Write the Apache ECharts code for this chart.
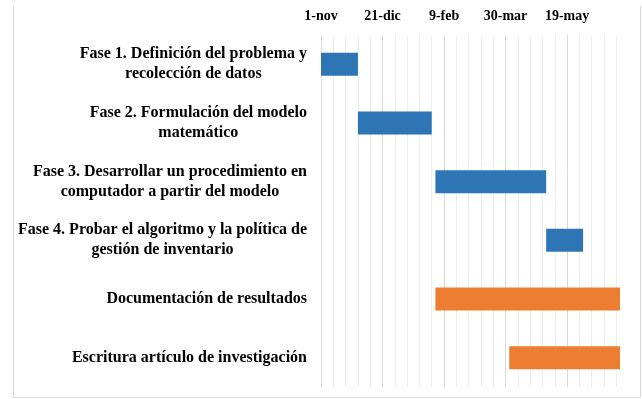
<!DOCTYPE html>
<html>
<head>
<meta charset="utf-8">
<script src="https://cdn.jsdelivr.net/npm/echarts@6/dist/echarts.min.js"></script>
<style>
  html, body { margin: 0; padding: 0; background: #fff; }
  #chart { width: 642px; height: 399px; }
</style>
</head>
<body>
<div id="chart"></div>
<script>
// Tareas del cronograma (una fila por tarea, de arriba a abajo)
const tareas = [
  'Fase 1. Definición del problema y\nrecolección de datos',
  'Fase 2. Formulación del modelo\nmatemático',
  'Fase 3. Desarrollar un procedimiento en\ncomputador a partir del modelo',
  'Fase 4. Probar el algoritmo y la política de\ngestión de inventario',
  'Documentación de resultados',
  'Escritura artículo de investigación'
];
// Fechas de inicio y fin de cada tarea
const fechaInicio = ['2019-11-01', '2019-12-01', '2020-02-02', '2020-05-02', '2020-02-02', '2020-04-02'];
const fechaFin    = ['2019-12-01', '2020-01-30', '2020-05-02', '2020-06-01', '2020-07-01', '2020-07-01'];
// Tipo de tarea: fases del proyecto o entregables
const esFase = [true, true, true, true, false, false];
// Etiquetas del eje temporal (cada 50 días desde el origen)
const etiquetasEje = ['1-nov', '21-dic', '9-feb', '30-mar', '19-may'];
const origen = '2019-11-01';
const pasoEtiquetas = 50;
const diasTotales = 243;

const DIA = 86400000;
const dia = s => Math.round((Date.parse(s + 'T00:00:00Z') - Date.parse(origen + 'T00:00:00Z')) / DIA);
const inicio = fechaInicio.map(dia);
const duracion = fechaFin.map((f, i) => dia(f) - inicio[i]);

const serif = '"Liberation Serif", "Times New Roman", serif';
const chart = echarts.init(document.getElementById('chart'), null, { renderer: 'canvas' });

chart.setOption({
  animation: false,
  backgroundColor: '#ffffff',
  grid: { left: 321, right: 22, top: 35, bottom: 12, containLabel: false },
  xAxis: {
    type: 'value',
    position: 'top',
    min: 0,
    max: diasTotales,
    interval: 10,
    axisLine: { show: false },
    axisTick: { show: false },
    axisLabel: {
      margin: 12,
      showMaxLabel: false,
      color: '#000',
      fontFamily: serif,
      fontWeight: 'bold',
      fontSize: 14,
      formatter: v => (v % pasoEtiquetas === 0 && etiquetasEje[v / pasoEtiquetas]) || ''
    },
    splitLine: {
      show: true,
      showMaxLine: false,
      lineStyle: { width: 1, color: ['#d9d9d9', '#eeeeee', '#eeeeee', '#eeeeee', '#eeeeee'] }
    }
  },
  yAxis: {
    type: 'category',
    inverse: true,
    data: tareas,
    axisLine: { show: false },
    axisTick: { show: false },
    splitLine: { show: false },
    axisLabel: {
      margin: 14,
      formatter: v => v.split('\n').map(l => '{c|' + l + '}').join('\n'),
      rich: {
        c: {
          align: 'center',
          color: '#000',
          fontFamily: serif,
          fontWeight: 'bold',
          fontSize: 16,
          lineHeight: 20
        }
      }
    }
  },
  series: [
    {
      name: 'inicio',
      type: 'bar',
      stack: 'gantt',
      barWidth: 23,
      silent: true,
      itemStyle: { color: 'transparent' },
      data: inicio
    },
    {
      name: 'Fases',
      type: 'bar',
      stack: 'gantt',
      barWidth: 23,
      itemStyle: { color: '#2e75b6' },
      data: duracion.map((d, i) => esFase[i] ? d : '-')
    },
    {
      name: 'Entregables',
      type: 'bar',
      stack: 'gantt',
      barWidth: 23,
      itemStyle: { color: '#ed7d31' },
      data: duracion.map((d, i) => esFase[i] ? '-' : d)
    }
  ],
  graphic: [
    { type: 'line', silent: true, shape: { x1: 13.5, y1: 6, x2: 13.5, y2: 397.5 }, style: { stroke: '#d9d9d9', lineWidth: 1 } },
    { type: 'line', silent: true, shape: { x1: 640.5, y1: 6, x2: 640.5, y2: 397.5 }, style: { stroke: '#d9d9d9', lineWidth: 1 } },
    { type: 'line', silent: true, shape: { x1: 13.5, y1: 397.5, x2: 640.5, y2: 397.5 }, style: { stroke: '#d9d9d9', lineWidth: 1 } }
  ]
});
</script>
</body>
</html>
